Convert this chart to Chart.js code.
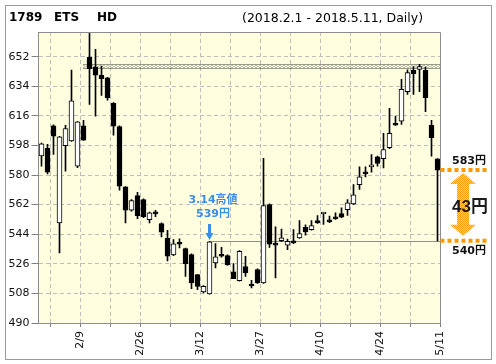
<!DOCTYPE html>
<html>
<head>
<meta charset="utf-8">
<script src="https://cdn.jsdelivr.net/npm/chart.js@4.4.1/dist/chart.umd.min.js"></script>
<style>
  html, body { margin: 0; padding: 0; background: #fff; }
  canvas { display: block; }
</style>
</head>
<body>
<canvas id="chart" width="496" height="364"></canvas>
<script>
// trading days 2018.2.1 - 2018.5.11
const dates = [
  '2/1', '2/2', '2/5', '2/6', '2/7', '2/8', '2/9', '2/13', '2/14', '2/15', '2/16', '2/19', '2/20', '2/21', '2/22', '2/23', '2/26', '2/27', '2/28',
  '3/1', '3/2', '3/5', '3/6', '3/7', '3/8', '3/9', '3/12', '3/13', '3/14', '3/15', '3/16', '3/19', '3/20', '3/22', '3/23', '3/26', '3/27', '3/28', '3/29', '3/30',
  '4/2', '4/3', '4/4', '4/5', '4/6', '4/9', '4/10', '4/11', '4/12', '4/13', '4/16', '4/17', '4/18', '4/19', '4/20', '4/23', '4/24', '4/25', '4/26', '4/27',
  '5/1', '5/2', '5/7', '5/8', '5/9', '5/10', '5/11'
];
const opens = [
  591.6, 596.2, 610.0, 550.9, 597.8, 600.8, 585.4, 610.0, 651.6, 645.7, 640.6, 639.2, 623.6, 609.4, 572.8, 558.6, 567.5, 565.1, 552.9,
  556.8, 550.5, 541.5, 531.4, 538.3, 535.2, 531.6, 519.4, 508.9, 507.7, 526.5, 531.4, 531.0, 521.1, 515.8, 524.3, 512.9, 522.5, 514.4, 562.0, 537.7,
  540.1, 537.3, 539.7, 541.8, 548.2, 546.8, 552.3, 556.3, 552.3, 554.3, 556.6, 559.0, 562.5, 574.2, 581.7, 585.0, 591.1, 589.9, 596.6, 611.4,
  612.8, 630.7, 643.7, 644.3, 643.7, 610.2, 589.9
];
const highs = [
  599.5, 598.6, 610.5, 603.5, 610.2, 643.8, 612.5, 613.2, 666.2, 656.4, 646.3, 639.5, 624.0, 610.0, 573.0, 565.1, 569.5, 565.5, 557.5,
  558.6, 551.0, 546.4, 540.7, 541.2, 535.5, 532.0, 519.5, 512.8, 539.5, 538.3, 536.0, 531.5, 526.1, 534.0, 530.6, 516.0, 523.0, 590.1, 562.5, 548.5,
  547.2, 541.0, 546.8, 552.3, 549.7, 552.3, 555.3, 556.6, 555.0, 557.0, 560.0, 565.1, 574.2, 585.0, 585.0, 592.5, 591.5, 605.3, 620.5, 615.8,
  638.2, 644.0, 646.0, 647.3, 645.7, 613.2, 590.0
];
const lows = [
  585.4, 580.7, 592.5, 532.6, 582.3, 600.5, 584.5, 601.0, 623.0, 615.8, 628.4, 625.6, 604.3, 570.8, 550.9, 558.0, 553.5, 554.0, 550.9,
  554.6, 542.4, 527.8, 531.0, 535.7, 518.4, 510.9, 510.3, 508.3, 507.5, 523.5, 530.0, 525.0, 517.0, 515.5, 518.4, 511.3, 514.0, 514.0, 536.0, 517.4,
  539.5, 534.6, 538.3, 541.5, 543.4, 546.5, 550.5, 549.9, 551.0, 553.0, 554.0, 555.5, 562.0, 571.2, 578.9, 581.7, 585.4, 584.4, 596.0, 610.2,
  610.8, 629.0, 629.0, 630.7, 618.5, 591.5, 540.0
];
const closes = [
  599.0, 581.7, 603.6, 603.3, 608.3, 625.2, 612.4, 601.2, 644.7, 640.8, 638.6, 627.0, 609.7, 573.2, 558.6, 564.5, 555.3, 554.6, 557.0,
  556.4, 545.2, 530.6, 538.1, 537.9, 526.1, 514.4, 512.3, 512.3, 539.3, 530.2, 530.6, 525.5, 517.0, 533.6, 520.4, 512.5, 514.4, 561.4, 538.0, 537.4,
  541.8, 539.7, 538.7, 544.4, 545.4, 549.3, 550.9, 556.5, 551.5, 553.3, 554.3, 563.1, 568.0, 578.9, 580.7, 585.2, 587.0, 595.5, 605.3, 610.3,
  632.1, 642.3, 641.6, 645.9, 627.0, 602.7, 583.0
];
const tickDates = ['2/9', '2/26', '3/12', '3/27', '4/10', '4/24', '5/11'];
const yTicks = [490, 508, 526, 544, 562, 580, 598, 616, 634, 652];
const resistBand = [644.8, 647.8];
const highDate = '3/14';
const highPrice = 539;
const supportPrice = 540;
const lastPrice = 583;

const bodies = dates.map((d, i) => ({ x: i + 0.5, y: [opens[i], closes[i]] }));
const wicks = dates.map((d, i) => ({ x: i + 0.5, y: [lows[i], highs[i]] }));
const bodyColors = dates.map((d, i) => closes[i] >= opens[i] ? '#ffffff' : '#000000');

const FONT = '"DejaVu Sans", "Noto Sans CJK JP", sans-serif';

const decor = {
  id: 'decor',
  beforeDraw(chart) {
    const { ctx, chartArea: a } = chart;
    ctx.save();
    ctx.fillStyle = '#ffffff';
    ctx.fillRect(0, 0, chart.width, chart.height);
    ctx.fillStyle = '#ffffe0';
    ctx.fillRect(a.left, a.top, a.right - a.left, a.bottom - a.top);
    ctx.restore();
  },
  beforeDatasetsDraw(chart) {
    const { ctx, chartArea: a, scales: { x, y } } = chart;
    ctx.save();
    // resistance band from the Feb high
    const bx = x.getPixelForValue(dates.indexOf('2/13') + 0.5);
    const yTop = Math.round(y.getPixelForValue(resistBand[1])) + 0.5;
    const yBot = Math.round(y.getPixelForValue(resistBand[0])) + 0.5;
    ctx.lineWidth = 1;
    ctx.strokeStyle = '#333';
    ctx.setLineDash([1, 1]);
    [yTop, yBot].forEach(yy => {
      ctx.beginPath(); ctx.moveTo(bx, yy); ctx.lineTo(a.right, yy); ctx.stroke();
    });
    ctx.strokeStyle = '#777';
    ctx.setLineDash([1, 3]);
    for (let yy = yTop + 1; yy < yBot; yy++) {
      ctx.lineDashOffset = (yy - yTop) % 2 ? 0 : 2;
      ctx.beginPath(); ctx.moveTo(bx, yy); ctx.lineTo(a.right, yy); ctx.stroke();
    }
    // support line from 3/14 high
    const sx = x.getPixelForValue(dates.indexOf(highDate) + 0.5);
    const sy = Math.round(y.getPixelForValue(supportPrice)) + 0.5;
    ctx.strokeStyle = '#222';
    ctx.setLineDash([1, 1]);
    ctx.lineDashOffset = 0;
    ctx.beginPath(); ctx.moveTo(sx, sy); ctx.lineTo(a.right, sy); ctx.stroke();
    ctx.restore();
  },
  afterDraw(chart) {
    const { ctx, chartArea: a, scales: { x, y } } = chart;
    ctx.save();
    // plot frame
    ctx.strokeStyle = '#8c8c8c';
    ctx.lineWidth = 1;
    ctx.beginPath();
    ctx.moveTo(Math.floor(a.left) + 0.5, Math.floor(a.top) + 0.5);
    ctx.lineTo(Math.floor(a.right) + 0.5, Math.floor(a.top) + 0.5);
    ctx.lineTo(Math.floor(a.right) + 0.5, Math.floor(a.bottom) + 0.5);
    ctx.stroke();
    // outer frame
    ctx.strokeStyle = '#9a9a9a';
    ctx.strokeRect(5.5, 5.5, 486, 354);

    // titles
    ctx.fillStyle = '#000';
    ctx.textBaseline = 'alphabetic';
    ctx.font = 'bold 12px ' + FONT;
    ctx.fillText('1789', 9, 20.5);
    ctx.fillText('ETS', 54, 20.5);
    ctx.fillText('HD', 97, 20.5);
    ctx.font = '12.5px ' + FONT;
    ctx.fillText('(2018.2.1 - 2018.5.11, Daily)', 242, 22);

    // 3/14 high marker
    const hi = dates.indexOf(highDate);
    const cx = Math.round(x.getPixelForValue(hi + 0.5)) - 1;
    const tipY = Math.round(y.getPixelForValue(highs[hi])) - 2;
    ctx.fillStyle = '#3a8ee8';
    ctx.fillRect(cx - 1, tipY - 16, 3, 10);
    ctx.beginPath();
    ctx.moveTo(cx - 3.5, tipY - 7);
    ctx.lineTo(cx + 4.5, tipY - 7);
    ctx.lineTo(cx + 0.5, tipY);
    ctx.closePath();
    ctx.fill();
    ctx.font = 'bold 11px ' + FONT;
    ctx.textAlign = 'center';
    ctx.fillText(highDate.replace('/', '.') + '高値', cx + 4, tipY - 37);
    ctx.fillText(highPrice + '円', cx + 4, tipY - 23);

    // right panel: gap between last close and support
    const yA = y.getPixelForValue(lastPrice);
    const yB = y.getPixelForValue(supportPrice);
    ctx.strokeStyle = '#ff9900';
    ctx.lineWidth = 4;
    ctx.setLineDash([4, 3]);
    [yA, yB].forEach(yy => {
      ctx.beginPath(); ctx.moveTo(a.right, yy); ctx.lineTo(487, yy); ctx.stroke();
    });
    ctx.setLineDash([]);
    const pc = document.createElement('canvas');
    pc.width = 2; pc.height = 2;
    const pctx = pc.getContext('2d');
    pctx.fillStyle = '#ffd890'; pctx.fillRect(0, 0, 2, 2);
    pctx.fillStyle = '#ff9900'; pctx.fillRect(0, 0, 1, 1); pctx.fillRect(1, 1, 1, 1);
    ctx.fillStyle = ctx.createPattern(pc, 'repeat');
    const ax = 463, t = yA + 3, b = yB - 5;
    ctx.beginPath();
    ctx.moveTo(ax, t);
    ctx.lineTo(ax + 13, t + 11);
    ctx.lineTo(ax + 6, t + 11);
    ctx.lineTo(ax + 6, b - 11);
    ctx.lineTo(ax + 13, b - 11);
    ctx.lineTo(ax, b);
    ctx.lineTo(ax - 13, b - 11);
    ctx.lineTo(ax - 6, b - 11);
    ctx.lineTo(ax - 6, t + 11);
    ctx.lineTo(ax - 13, t + 11);
    ctx.closePath();
    ctx.fill();

    ctx.fillStyle = '#111';
    ctx.textAlign = 'right';
    ctx.font = 'bold 11px ' + FONT;
    ctx.fillText(lastPrice + '円', 486, yA - 6.5);
    ctx.fillText(supportPrice + '円', 486, yB + 13.5);
    ctx.font = 'bold 17px "Liberation Sans", "Noto Sans CJK JP", sans-serif';
    ctx.fillStyle = '#1a1a1a';
    ctx.fillText((lastPrice - supportPrice) + '円', 488, (yA + yB) / 2 + 7);
    ctx.restore();
  }
};

new Chart(document.getElementById('chart'), {
  type: 'bar',
  data: {
    datasets: [
      {
        data: bodies,
        backgroundColor: bodyColors,
        borderColor: '#000',
        borderWidth: 1,
        borderSkipped: false,
        barThickness: 5,
        maxBarThickness: 5,
        minBarLength: 2,
        grouped: false,
        order: 1
      },
      {
        data: wicks,
        backgroundColor: '#000',
        borderWidth: 0,
        barThickness: 1,
        maxBarThickness: 1,
        grouped: false,
        order: 2
      }
    ]
  },
  options: {
    responsive: false,
    animation: false,
    devicePixelRatio: 1,
    layout: { padding: { left: 5.5, right: 55.5, top: 32, bottom: 5 } },
    plugins: {
      legend: { display: false },
      tooltip: { enabled: false }
    },
    scales: {
      x: {
        type: 'linear',
        min: 0,
        max: dates.length,
        offset: false,
        afterBuildTicks: (scale) => {
          const t = [];
          for (let v = 2; v <= dates.length; v += 5) t.push({ value: v });
          scale.ticks = t;
        },
        afterFit: (scale) => { scale.height = 36; },
        grid: {
          offset: false,
          color: (c) => c.tick && c.tick.value >= dates.length ? 'rgba(0,0,0,0)' : '#bdbdbd',
          tickColor: '#808080',
          tickLength: 4,
          tickBorderDash: []
        },
        border: { color: '#8c8c8c', dash: [4, 3] },
        ticks: {
          autoSkip: false,
          minRotation: 90,
          maxRotation: 90,
          padding: 4,
          color: '#111',
          font: { family: FONT, size: 11 },
          callback: (value) => {
            const d = dates[value - 1];
            return tickDates.includes(d) ? d : '';
          }
        }
      },
      y: {
        min: 490,
        max: 667,
        afterBuildTicks: (scale) => { scale.ticks = yTicks.map(v => ({ value: v })); },
        afterFit: (scale) => { scale.width = 33; },
        grid: {
          color: (c) => c.tick && c.tick.value === yTicks[0] ? 'rgba(0,0,0,0)' : '#bdbdbd',
          tickColor: '#808080',
          tickLength: 7,
          tickBorderDash: []
        },
        border: { color: '#8c8c8c', dash: [4, 3] },
        ticks: {
          padding: 2,
          color: '#111',
          font: { family: FONT, size: 11 }
        }
      }
    }
  },
  plugins: [decor]
});
</script>
</body>
</html>
